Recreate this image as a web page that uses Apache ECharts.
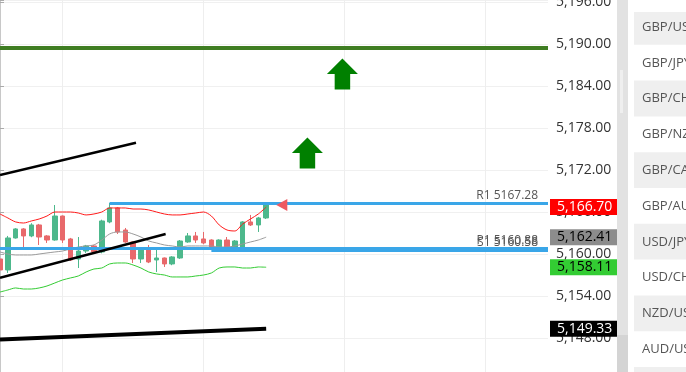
<!DOCTYPE html>
<html>
<head>
<meta charset="utf-8">
<script src="https://cdn.jsdelivr.net/npm/echarts@6/dist/echarts.min.js"></script>
<style>
html, body { margin: 0; padding: 0; background: #fff; }
#chart { width: 686px; height: 372px; }
</style>
</head>
<body>
<div id="chart"></div>
<script>
// open, close, low, high
var candles = [
    [5159.29, 5157.72, 5157.50, 5159.50],
    [5157.72, 5162.29, 5157.29, 5162.58],
    [5162.29, 5163.58, 5162.20, 5163.70],
    [5163.58, 5162.58, 5161.00, 5163.70],
    [5162.58, 5164.15, 5162.40, 5164.40],
    [5164.15, 5162.43, 5161.29, 5164.30],
    [5162.58, 5162.00, 5161.58, 5162.70],
    [5162.00, 5165.43, 5161.90, 5167.00],
    [5165.43, 5162.00, 5161.58, 5165.50],
    [5162.15, 5159.15, 5159.00, 5162.30],
    [5159.29, 5160.43, 5158.00, 5162.43],
    [5160.43, 5161.15, 5160.15, 5161.30],
    [5161.15, 5160.29, 5160.10, 5161.30],
    [5160.29, 5164.72, 5160.10, 5164.90],
    [5164.58, 5166.58, 5164.40, 5167.29],
    [5166.58, 5163.15, 5162.86, 5166.72],
    [5163.43, 5161.72, 5161.60, 5163.72],
    [5161.72, 5159.29, 5158.72, 5161.80],
    [5159.29, 5160.86, 5158.72, 5161.00],
    [5160.86, 5158.86, 5158.70, 5161.29],
    [5159.15, 5159.43, 5157.43, 5160.72],
    [5159.43, 5158.58, 5158.15, 5159.50],
    [5158.58, 5159.58, 5158.40, 5159.70],
    [5159.43, 5161.86, 5159.30, 5162.00],
    [5161.72, 5162.58, 5161.60, 5163.00],
    [5162.58, 5162.00, 5161.58, 5163.15],
    [5162.15, 5161.58, 5161.40, 5163.15],
    [5162.00, 5160.86, 5160.70, 5162.10],
    [5160.86, 5162.00, 5160.70, 5162.10],
    [5162.00, 5161.00, 5160.90, 5162.43],
    [5160.86, 5161.86, 5160.70, 5162.00],
    [5160.86, 5164.58, 5160.70, 5164.70],
    [5164.58, 5164.15, 5164.00, 5165.58],
    [5164.15, 5165.15, 5163.15, 5165.30],
    [5165.15, 5167.00, 5165.00, 5167.29]
];

var upperBand = [5165.72, 5165.15, 5164.58, 5164.43, 5164.72, 5165.00, 5165.43, 5166.00, 5166.00, 5166.00,
    5165.86, 5165.58, 5165.72, 5166.00, 5166.58, 5166.58, 5166.58, 5166.43, 5166.43, 5166.29,
    5166.00, 5165.72, 5165.58, 5165.58, 5165.72, 5165.86, 5166.00, 5165.43, 5164.15, 5163.43,
    5163.29, 5164.29, 5165.00, 5165.72, 5166.70];
var middleBand = [5160.29, 5160.00, 5159.86, 5159.86, 5159.86, 5160.00, 5160.15, 5160.29, 5160.43, 5160.72,
    5161.00, 5161.15, 5161.29, 5162.00, 5162.86, 5163.15, 5163.15, 5162.86, 5162.43, 5161.86,
    5161.58, 5161.29, 5161.15, 5161.00, 5161.15, 5161.15, 5161.15, 5161.15, 5161.00, 5161.00,
    5161.15, 5161.43, 5161.72, 5162.00, 5162.41];
var lowerBand = [5154.57, 5154.86, 5155.15, 5155.00, 5155.00, 5155.15, 5155.43, 5155.86, 5156.29, 5156.58,
    5156.86, 5157.43, 5157.86, 5158.00, 5158.58, 5158.72, 5158.72, 5158.43, 5158.00, 5157.43,
    5157.15, 5157.00, 5156.72, 5156.72, 5156.72, 5156.86, 5157.00, 5157.29, 5158.00, 5158.15,
    5158.15, 5158.00, 5158.00, 5158.15, 5158.11];

// trend lines: [slot, price]
var trendUpper = [[0, 5171.29], [17.37, 5175.90]];
var trendMiddle = [[0, 5156.61], [21.16, 5162.86]];
var trendLower = [[0, 5147.79], [34, 5149.33]];

var targetLevel = 5189.43;
var pivotLevels = { r1: 5167.28, p1: 5160.88, s1: 5160.58 };
var r1Start = 14, s1Start = 27;

var upArrows = [[43.74, 5185.71], [39.27, 5174.43]];
var priceMarker = [[36.0, 5167.0]];

var symbols = ['GBP/USD', 'GBP/JPY', 'GBP/CHF', 'GBP/NZD', 'GBP/CAD', 'GBP/AUD', 'USD/JPY', 'USD/CHF', 'NZD/USD', 'AUD/USD', ''];

var slotCount = 71;
var categories = [];
for (var i = 0; i < slotCount; i++) categories.push(String(i));

var font = 'Open Sans';

function fmt(v) {
    return v.toLocaleString('en-US', { minimumFractionDigits: 2, maximumFractionDigits: 2 });
}

function priceTag(value, bg, fg) {
    return {
        symbol: ['none', 'none'],
        silent: true,
        lineStyle: { color: 'rgba(0,0,0,0)', width: 1, opacity: 1 },
        label: {
            show: true,
            position: 'end',
            distance: 2,
            opacity: 1,
            formatter: fmt(value),
            backgroundColor: bg,
            color: fg,
            fontFamily: font,
            fontSize: 14,
            width: 57,
            lineHeight: 15,
            padding: [1, 3, 0, 7]
        },
        data: [{ yAxis: value }]
    };
}

var chart = echarts.init(document.getElementById('chart'));

// side panel (symbol list + scroll bar)
var panel = [
    { type: 'rect', shape: { x: 617, y: 0, width: 11, height: 372 }, style: { fill: '#e2e2e2' } },
    { type: 'rect', shape: { x: 620, y: 70, width: 3, height: 43 }, style: { fill: '#efefef' } },
    { type: 'rect', shape: { x: 617, y: 335, width: 11, height: 37 }, style: { fill: '#d4d4d4' } }
];
symbols.forEach(function (s, i) {
    var top = 9 + i * 35.8;
    if (i % 2 === 0) {
        panel.push({ type: 'rect', shape: { x: 634, y: top, width: 52, height: 35.8 }, style: { fill: '#efefef' } });
    }
    panel.push({
        type: 'text', x: 642, y: top + 18,
        style: { text: s, fill: '#555', font: '13px "Open Sans"', verticalAlign: 'middle' }
    });
});
panel.push({ type: 'rect', shape: { x: 634, y: 0, width: 52, height: 12 }, style: { fill: '#fff' } });
panel.push({
    type: 'text', x: 642, y: -3,
    style: { text: 'SYMBOL', fill: '#aaa', font: '12px "Open Sans"', verticalAlign: 'middle' }
});

var option = {
    animation: false,
    backgroundColor: '#fff',
    grid: { left: 0, top: 0, width: 548, height: 380, show: false, outerBoundsMode: 'none', containLabel: false },
    xAxis: [
        {
            type: 'category',
            data: categories,
            boundaryGap: false,
            axisLine: { show: false },
            axisTick: { show: false },
            axisLabel: { show: false },
            splitLine: {
                show: true,
                interval: function (idx) { return idx % 18 === 8; },
                lineStyle: { color: '#eeeeee', width: 1 }
            }
        },
        {
            type: 'value',
            min: 0,
            max: slotCount - 1,
            show: false
        }
    ],
    yAxis: {
        type: 'value',
        position: 'right',
        min: 5142,
        max: 5196.29,
        interval: 6,
        axisLine: { show: true, lineStyle: { color: '#c8c8c8' } },
        axisTick: { show: true, length: 4, lineStyle: { color: '#aaa' } },
        axisLabel: {
            margin: 8,
            color: '#333',
            fontFamily: font,
            fontSize: 14,
            formatter: function (v) {
                if (Math.abs(v / 6 - Math.round(v / 6)) > 1e-6) return '';
                return fmt(v);
            }
        },
        splitLine: { show: true, lineStyle: { color: '#f0f0f0' } }
    },
    series: [
        {
            name: 'Price',
            type: 'candlestick',
            data: candles,
            barWidth: 5,
            clip: false,
            z: 3,
            itemStyle: {
                color: '#4db88c',
                color0: '#e8696b',
                borderColor: '#4db88c',
                borderColor0: '#e8696b',
                borderWidth: 1
            },
            markLine: {
                symbol: ['none', 'none'],
                silent: true,
                label: {
                    color: '#555',
                    fontFamily: font,
                    fontSize: 12,
                    position: 'insideEndTop',
                    distance: [10, 1]
                },
                data: [
                    { yAxis: targetLevel, lineStyle: { color: '#3f7d22', width: 4, type: 'solid' }, label: { show: false } },
                    { yAxis: pivotLevels.p1, lineStyle: { color: '#3aa6e8', width: 3, type: 'solid' }, label: { formatter: 'P1 ' + pivotLevels.p1 } },
                    [
                        { coord: [r1Start, pivotLevels.r1], lineStyle: { color: '#3aa6e8', width: 3, type: 'solid' }, label: { formatter: 'R1 ' + pivotLevels.r1 } },
                        { coord: [slotCount - 1, pivotLevels.r1] }
                    ],
                    [
                        { coord: [s1Start, pivotLevels.s1], lineStyle: { color: '#3aa6e8', width: 3, type: 'solid' }, label: { formatter: 'S1 ' + pivotLevels.s1 } },
                        { coord: [slotCount - 1, pivotLevels.s1] }
                    ]
                ]
            }
        },
        {
            name: 'Upper',
            type: 'line',
            data: upperBand,
            symbol: 'none',
            smooth: 0.3,
            clip: false,
            z: 4,
            lineStyle: { color: '#ff1a1a', width: 1 },
            markLine: priceTag(upperBand[upperBand.length - 1], '#ff0000', '#fff')
        },
        {
            name: 'Middle',
            type: 'line',
            data: middleBand,
            symbol: 'none',
            smooth: 0.3,
            clip: false,
            z: 4,
            lineStyle: { color: '#9a9a9a', width: 1 },
            markLine: priceTag(middleBand[middleBand.length - 1], '#8c8c8c', '#000')
        },
        {
            name: 'Lower',
            type: 'line',
            data: lowerBand,
            symbol: 'none',
            smooth: 0.3,
            clip: false,
            z: 4,
            lineStyle: { color: '#33cc33', width: 1 },
            markLine: priceTag(lowerBand[lowerBand.length - 1], '#33cc33', '#000')
        },
        {
            name: 'Trend 1',
            type: 'line',
            xAxisIndex: 1,
            data: trendUpper,
            symbol: 'none',
            z: 5,
            lineStyle: { color: '#000', width: 2.5 }
        },
        {
            name: 'Trend 2',
            type: 'line',
            xAxisIndex: 1,
            data: trendMiddle,
            symbol: 'none',
            z: 5,
            lineStyle: { color: '#000', width: 2.5 }
        },
        {
            name: 'Trend 3',
            type: 'line',
            xAxisIndex: 1,
            data: trendLower,
            symbol: 'none',
            clip: false,
            z: 5,
            lineStyle: { color: '#000', width: 4 },
            markLine: priceTag(trendLower[trendLower.length - 1][1], '#000', '#fff')
        },
        {
            name: 'Signals',
            type: 'scatter',
            xAxisIndex: 1,
            data: upArrows,
            symbol: 'path://M15,0 L30,15 L22.5,15 L22.5,30 L7.5,30 L7.5,15 L0,15 Z',
            symbolSize: [31, 31],
            z: 6,
            itemStyle: { color: '#008000', opacity: 1 }
        },
        {
            name: 'Last',
            type: 'scatter',
            xAxisIndex: 1,
            data: priceMarker,
            symbol: 'triangle',
            symbolRotate: 90,
            symbolSize: [12, 11],
            z: 6,
            itemStyle: { color: '#ee5a62', opacity: 1 }
        }
    ],
    graphic: panel
};

chart.setOption(option);
</script>
</body>
</html>
